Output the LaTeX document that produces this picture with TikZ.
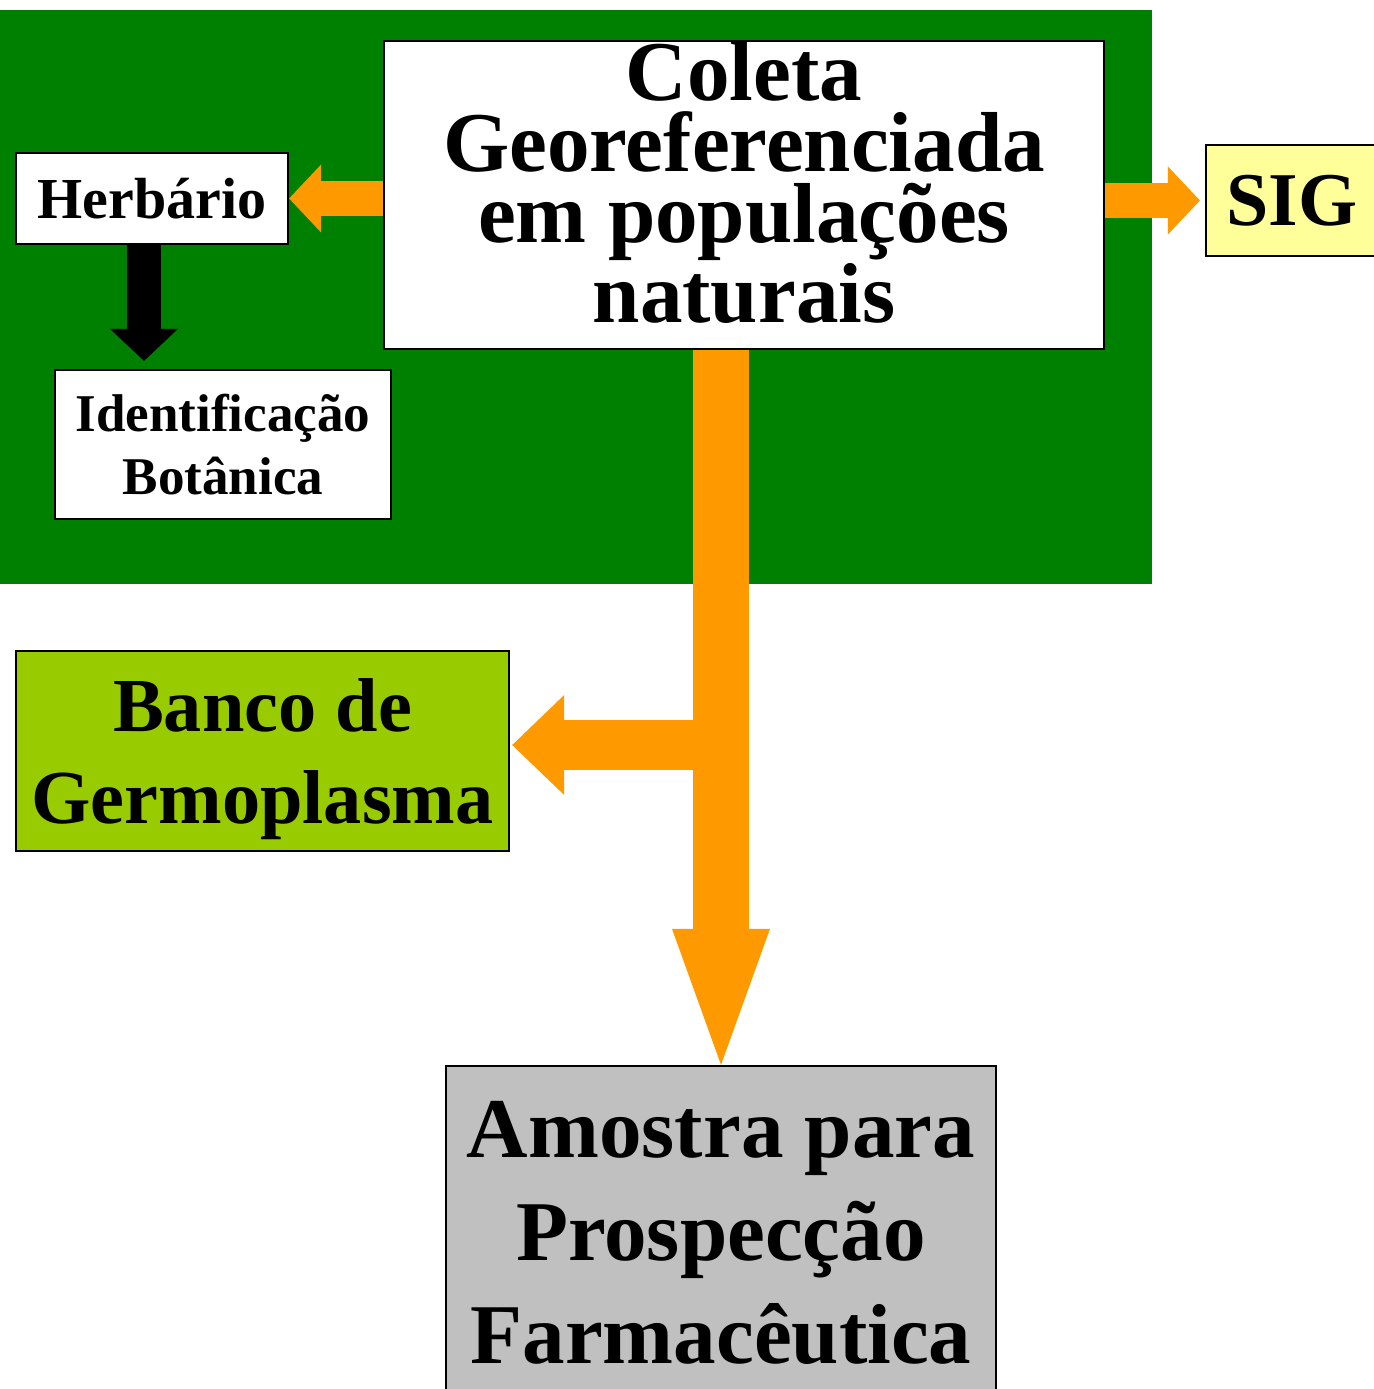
\documentclass[tikz,border=0pt]{standalone}
\usepackage{fontspec}
\setmainfont{Liberation Serif}
\usepackage{tikz}
\usetikzlibrary{positioning}
\usetikzlibrary{arrows.meta}
\usepackage{xcolor}

\definecolor{panelgreen}{HTML}{008000}
\definecolor{arroworange}{HTML}{FF9900}
\definecolor{sigyellow}{HTML}{FFFF99}
\definecolor{bancolime}{HTML}{99CC00}
\definecolor{amostragray}{HTML}{C0C0C0}

\begin{document}
\begin{tikzpicture}[x=0.01cm, y=-0.01cm,
    box/.style={draw, rectangle, line width=0.6pt, align=center, inner sep=0pt},
    fatarrow/.style={line width=0.34cm, -{Triangle[length=0.32cm, width=0.68cm, line width=0pt]}},
    bigarrow/.style={line width=0.56cm, -{Triangle[length=1.36cm, width=0.98cm, line width=0pt]}},
    branch/.style={line width=0.5cm, -{Triangle[length=0.52cm, width=1.0cm, line width=0pt]}}]
    \useasboundingbox (0,0) rectangle (1374,1389);

    % Green panel behind the field work
    \fill[panelgreen] (0,10) rectangle (1152,584);

    % Boxes
    \node (coleta) [box, fill=white, minimum width=7.2cm, minimum height=3.08cm, text depth=0.26cm,
        font=\bfseries\fontsize{24.2pt}{20.2pt}\selectfont] at (744,195)
        {Coleta\\Georeferenciada\\em populações\\naturais};
    \node (herb) [box, fill=white, minimum width=2.72cm, minimum height=0.91cm,
        font=\bfseries\fontsize{16.5pt}{19pt}\selectfont] at (152,198.5) {Herbário};
    \node (ident) [box, fill=white, minimum width=3.36cm, minimum height=1.49cm,
        font=\bfseries\fontsize{15.1pt}{17.9pt}\selectfont] at (223,444.5) {Identificação\\Botânica};
    \node (sig) [box, fill=sigyellow, minimum width=1.72cm, minimum height=1.11cm,
        font=\bfseries\fontsize{21.6pt}{25pt}\selectfont] at (1292,200.5) {SIG};
    \node (banco) [box, fill=bancolime, minimum width=4.93cm, minimum height=2cm, text depth=0pt,
        font=\bfseries\fontsize{21.7pt}{25.9pt}\selectfont] at (262.5,751) {Banco de\\Germoplasma};
    \node (amostra) [box, fill=amostragray, minimum width=5.5cm, minimum height=3.34cm,
        font=\bfseries\fontsize{24.2pt}{29.3pt}\selectfont] at (721,1233)
        {Amostra para\\Prospecção\\Farmacêutica};

    % Arrows
    \coordinate (fork) at (720,745);
    \draw[fatarrow, arroworange] (coleta.west |- herb.east) -- (herb.east);
    \draw[fatarrow, arroworange] (coleta.east |- sig.west) -- ([xshift=-0.05cm]sig.west);
    \draw[fatarrow, black] ([xshift=-0.08cm]herb.south) -- ([xshift=-0.08cm, yshift=0.08cm]herb.south |- ident.north);
    \draw[branch, arroworange] (fork) -- ([xshift=0.02cm]fork -| banco.east);
    \draw[bigarrow, arroworange] (coleta.south -| amostra.north) -- (amostra.north);
\end{tikzpicture}
\end{document}
